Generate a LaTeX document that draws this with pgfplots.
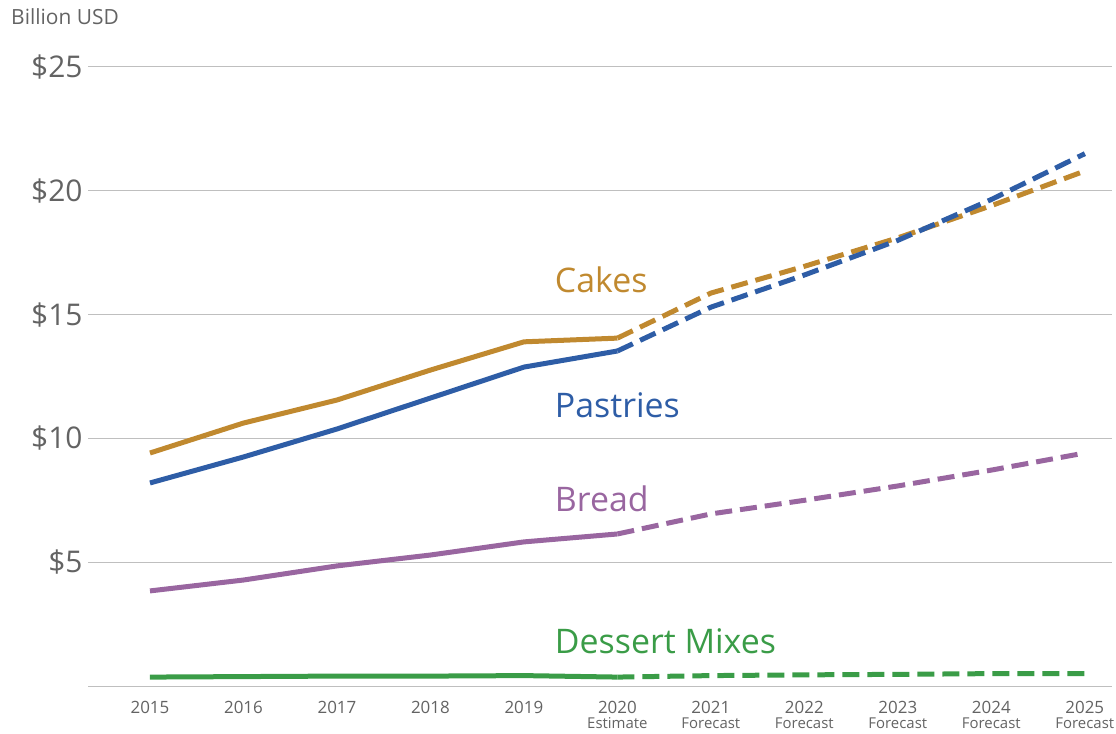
\documentclass[border=0pt]{standalone}
\usepackage{pgfplots}
\pgfplotsset{compat=1.18}
\usepackage{fontspec}
\setmainfont{Open Sans}
\definecolor{cakes}{HTML}{C0892F}
\definecolor{pastries}{HTML}{2E5DA6}
\definecolor{bread}{HTML}{9966A0}
\definecolor{mixes}{HTML}{3A9C47}
\definecolor{gridc}{HTML}{BFBFBF}
\definecolor{txt}{HTML}{636363}
\begin{document}
\begin{tikzpicture}[x=1bp,y=1bp]
\begin{axis}[
  at={(88bp,48bp)}, anchor=south west,
  scale only axis, width=1024bp, height=619bp,
  xmin=2014.337, xmax=2025.29, ymin=0, ymax=25,
  axis line style={draw=none},
  ytick={0,5,10,15,20,25},
  yticklabels={,\$5,\$10,\$15,\$20,\$25},
  ymajorgrids, grid style={gridc, line width=1bp},
  major tick length=0pt,
  yticklabel style={font=\fontsize{30}{30}\selectfont, text=txt, xshift=-2bp},
  xtick={2015,...,2025},
  xticklabels={2015,2016,2017,2018,2019,
    {2020\\[-3bp]{\fontsize{15}{15}\selectfont Estimate}},
    {2021\\[-3bp]{\fontsize{15}{15}\selectfont Forecast}},
    {2022\\[-3bp]{\fontsize{15}{15}\selectfont Forecast}},
    {2023\\[-3bp]{\fontsize{15}{15}\selectfont Forecast}},
    {2024\\[-3bp]{\fontsize{15}{15}\selectfont Forecast}},
    {2025\\[-3bp]{\fontsize{15}{15}\selectfont Forecast}}},
  xticklabel style={font=\fontsize{17}{18}\selectfont, text=txt, align=center, anchor=north, yshift=-12bp},
  clip=false,
]
\addplot[cakes, line width=5bp] coordinates {(2015,9.41)(2016,10.62)(2017,11.55)(2018,12.76)(2019,13.9)(2020,14.05)};
\addplot[cakes, line width=5bp, dash pattern=on 17bp off 8bp] coordinates {(2020,14.05)(2021,15.87)(2022,16.95)(2023,18.1)(2024,19.4)(2025,20.8)};
\addplot[pastries, line width=5bp] coordinates {(2015,8.2)(2016,9.25)(2017,10.38)(2018,11.63)(2019,12.88)(2020,13.53)};
\addplot[pastries, line width=5bp, dash pattern=on 17bp off 8bp] coordinates {(2020,13.53)(2021,15.3)(2022,16.6)(2023,18.0)(2024,19.65)(2025,21.5)};
\addplot[bread, line width=5bp] coordinates {(2015,3.84)(2016,4.28)(2017,4.85)(2018,5.29)(2019,5.82)(2020,6.14)};
\addplot[bread, line width=5bp, dash pattern=on 17bp off 8bp] coordinates {(2020,6.14)(2021,6.95)(2022,7.5)(2023,8.08)(2024,8.72)(2025,9.41)};
\addplot[mixes, line width=5bp] coordinates {(2015,0.36)(2016,0.38)(2017,0.4)(2018,0.4)(2019,0.42)(2020,0.36)};
\addplot[mixes, line width=5bp, dash pattern=on 17bp off 8bp] coordinates {(2020,0.36)(2021,0.42)(2022,0.45)(2023,0.47)(2024,0.5)(2025,0.5)};
\node[anchor=west, text=cakes, font=\fontsize{34}{34}\selectfont, inner sep=0pt] at (axis cs:2019.33,16.4) {Cakes};
\node[anchor=west, text=pastries, font=\fontsize{34}{34}\selectfont, inner sep=0pt] at (axis cs:2019.33,11.35) {Pastries};
\node[anchor=west, text=bread, font=\fontsize{34}{34}\selectfont, inner sep=0pt] at (axis cs:2019.33,7.55) {Bread};
\node[anchor=west, text=mixes, font=\fontsize{34}{34}\selectfont, inner sep=0pt] at (axis cs:2019.33,1.82) {Dessert Mixes};
\end{axis}
\node[anchor=west, text=txt, font=\fontsize{21}{21}\selectfont, inner sep=0pt] at (11bp,717bp) {Billion USD};
\pgfresetboundingbox
\path (0,0) rectangle (1116bp,734bp);
\end{tikzpicture}
\end{document}
